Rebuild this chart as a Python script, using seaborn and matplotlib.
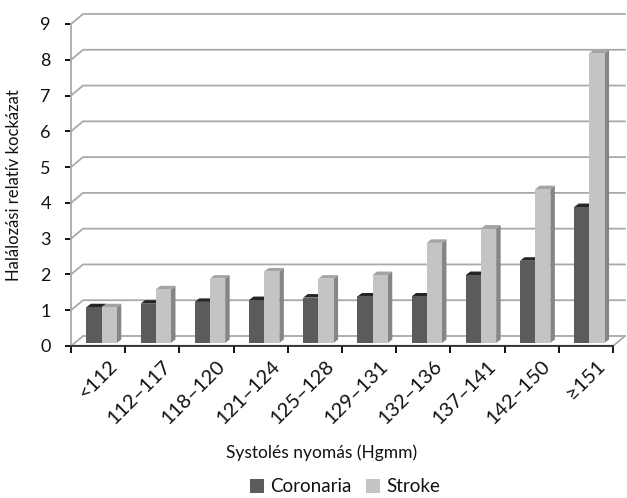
import matplotlib
matplotlib.use("Agg")
import matplotlib.pyplot as plt
from matplotlib.patches import Polygon, Patch
from matplotlib.transforms import ScaledTranslation
import pandas as pd
import seaborn as sns

# Systolic pressure bands and relative mortality risk
categories = ["<112", "112–117", "118–120", "121–124", "125–128",
              "129–131", "132–136", "137–141", "142–150", "≥151"]
coronaria = [1.0, 1.1, 1.15, 1.2, 1.27, 1.3, 1.3, 1.9, 2.3, 3.8]
stroke = [1.0, 1.5, 1.8, 2.0, 1.8, 1.9, 2.8, 3.2, 4.3, 8.1]
series_names = ["Coronaria", "Stroke"]
y_ticks = list(range(10))

df = pd.DataFrame({
    "cat": categories * 2,
    "val": coronaria + stroke,
    "series": [series_names[0]] * len(categories) + [series_names[1]] * len(categories),
})

sns.set_theme(style="white")
plt.rcParams["font.family"] = ["Lato", "DejaVu Sans"]

front = ["#5b5b5d", "#c3c4c6"]
top_col = ["#262626", "#a4a4a4"]
side_col = ["#3a3a3a", "#868686"]
grid_col = "#a9a9a9"
txt = "#111111"

W, H = 627, 498
fig = plt.figure(figsize=(W / 100, H / 100), dpi=100)
L, R, B, T = 71, 613, 346, 24
ax = fig.add_axes([L / W, (H - B) / H, (R - L) / W, (B - T) / H])

sns.barplot(data=df, x="cat", y="val", hue="series", palette=front,
            width=0.56, saturation=1, edgecolor="none", legend=False,
            order=categories, hue_order=series_names, ax=ax, zorder=3)
ax.set_xlim(-0.5, len(categories) - 0.5)
ax.set_ylim(0, 9)

# pixel -> data unit conversions for the pseudo-3D depth
px_x = (R - L) / len(categories)
px_y = (B - T) / 9.0
wall_dx, wall_dy = 12 / px_x, 10 / px_y      # back wall depth
bar_ox, bar_oy = 3.5 / px_x, 3.0 / px_y      # bar front face inset
bar_dx, bar_dy = 4.5 / px_x, 3.5 / px_y      # bar depth

# back wall gridlines with their left connectors
x0, x1 = -0.5, len(categories) - 0.5
for v in y_ticks:
    ax.plot([x0, x0 + wall_dx, x1 + wall_dx], [v, v + wall_dy, v + wall_dy],
            color=grid_col, lw=1.3, clip_on=False, zorder=1,
            solid_joinstyle="miter")
# floor right edge and front edge
ax.plot([x1, x1 + wall_dx], [0, wall_dy], color=grid_col, lw=1.3,
        clip_on=False, zorder=1)
ax.plot([x0, x1], [bar_oy * 0.4, bar_oy * 0.4], color=grid_col, lw=1.0,
        clip_on=False, zorder=1)

# shift bars into the floor depth and add top/side faces
n = len(categories)
for i, bar in enumerate(ax.patches[:2 * n]):
    s = i // n
    bx = bar.get_x() + bar_ox
    bw = bar.get_width()
    h = bar.get_height()
    bar.set_x(bx)
    bar.set_y(bar_oy)
    ht = h + bar_oy
    side = Polygon([(bx + bw, bar_oy), (bx + bw + bar_dx, bar_oy + bar_dy),
                    (bx + bw + bar_dx, ht + bar_dy), (bx + bw, ht)],
                   closed=True, facecolor=side_col[s], edgecolor="none",
                   zorder=2.9 + s * 0.2, clip_on=False)
    topf = Polygon([(bx, ht), (bx + bar_dx, ht + bar_dy),
                    (bx + bw + bar_dx, ht + bar_dy), (bx + bw, ht)],
                   closed=True, facecolor=top_col[s], edgecolor="none",
                   zorder=2.9 + s * 0.2, clip_on=False)
    bar.set_zorder(3 + s * 0.2)
    ax.add_patch(side)
    ax.add_patch(topf)

for sp in ["top", "right"]:
    ax.spines[sp].set_visible(False)
ax.spines["left"].set_color(grid_col)
ax.spines["left"].set_linewidth(1.3)
ax.spines["bottom"].set_color("#202020")
ax.spines["bottom"].set_linewidth(1.2)

ax.set_yticks(y_ticks)
ax.set_yticklabels([str(v) for v in y_ticks])
ax.tick_params(axis="y", length=4.5, width=1.3, color="black", direction="out",
               pad=10, labelsize=13, labelcolor=txt, left=True)

# ticks between categories, labels at category centres
ax.set_xticks([i - 0.5 for i in range(n + 1)])
ax.set_xticklabels([""] * (n + 1))
ax.set_xticks(range(n), minor=True)
ax.set_xticklabels(categories, minor=True, rotation=45, ha="right",
                   rotation_mode="anchor", fontsize=14.5, color=txt)
ax.tick_params(axis="x", which="major", length=5, width=1.3, color="black",
               direction="out", bottom=True)
ax.tick_params(axis="x", which="minor", length=0, pad=8, bottom=True)
shift = ScaledTranslation(10 / 100, 0, fig.dpi_scale_trans)
for lab in ax.get_xticklabels(minor=True):
    lab.set_transform(lab.get_transform() + shift)

ax.set_xlabel("Systolés nyomás (Hgmm)", fontsize=12.5, color=txt)
ax.xaxis.set_label_coords(((238 + 405) / 2 - L) / (R - L), -(444 - B) / (B - T))
ax.set_ylabel("Halálozási relatív kockázat", fontsize=12, color=txt)
ax.yaxis.set_label_coords(-(L - 22) / (R - L), 0.5)

handles = [Patch(facecolor=front[0], edgecolor="none"),
           Patch(facecolor=front[1], edgecolor="none")]
fig.legend(handles, series_names, loc="center", ncol=2, frameon=False,
           bbox_to_anchor=(345 / W, 1 - 487 / H), fontsize=13.5,
           handlelength=0.75, handleheight=0.75, handletextpad=0.3,
           columnspacing=0.8, labelcolor=txt)

fig.savefig("out.png", dpi=100)
